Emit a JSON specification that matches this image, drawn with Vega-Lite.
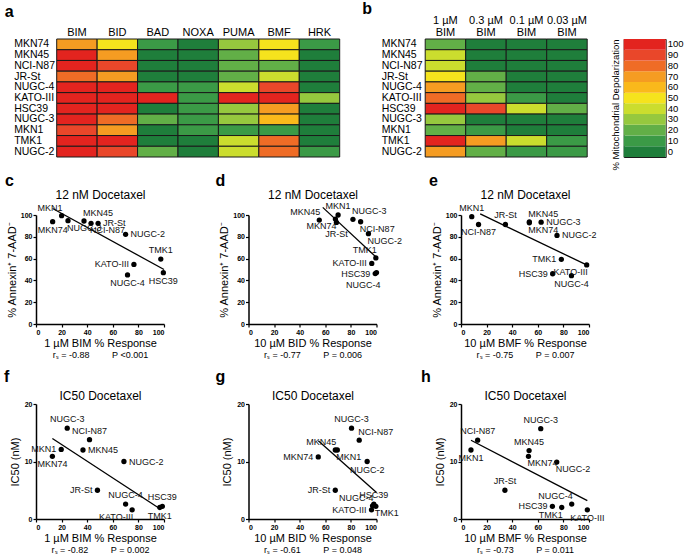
{
  "$schema": "https://vega.github.io/schema/vega-lite/v6.json",
  "background": "white",
  "padding": {"left": 4, "top": 1, "right": 2, "bottom": 2},
  "datasets": {
    "heatA": [
      {"cell":"MKN74","protein":"BIM","value":70},{"cell":"MKN74","protein":"BID","value":52},{"cell":"MKN74","protein":"BAD","value":10},{"cell":"MKN74","protein":"NOXA","value":0},{"cell":"MKN74","protein":"PUMA","value":30},{"cell":"MKN74","protein":"BMF","value":52},{"cell":"MKN74","protein":"HRK","value":8},
      {"cell":"MKN45","protein":"BIM","value":100},{"cell":"MKN45","protein":"BID","value":68},{"cell":"MKN45","protein":"BAD","value":2},{"cell":"MKN45","protein":"NOXA","value":2},{"cell":"MKN45","protein":"PUMA","value":20},{"cell":"MKN45","protein":"BMF","value":53},{"cell":"MKN45","protein":"HRK","value":2},
      {"cell":"NCI-N87","protein":"BIM","value":98},{"cell":"NCI-N87","protein":"BID","value":88},{"cell":"NCI-N87","protein":"BAD","value":2},{"cell":"NCI-N87","protein":"NOXA","value":2},{"cell":"NCI-N87","protein":"PUMA","value":20},{"cell":"NCI-N87","protein":"BMF","value":16},{"cell":"NCI-N87","protein":"HRK","value":2},
      {"cell":"JR-St","protein":"BIM","value":80},{"cell":"JR-St","protein":"BID","value":68},{"cell":"JR-St","protein":"BAD","value":3},{"cell":"JR-St","protein":"NOXA","value":3},{"cell":"JR-St","protein":"PUMA","value":22},{"cell":"JR-St","protein":"BMF","value":35},{"cell":"JR-St","protein":"HRK","value":2},
      {"cell":"NUGC-4","protein":"BIM","value":100},{"cell":"NUGC-4","protein":"BID","value":100},{"cell":"NUGC-4","protein":"BAD","value":5},{"cell":"NUGC-4","protein":"NOXA","value":8},{"cell":"NUGC-4","protein":"PUMA","value":40},{"cell":"NUGC-4","protein":"BMF","value":86},{"cell":"NUGC-4","protein":"HRK","value":3},
      {"cell":"KATO-III","protein":"BIM","value":100},{"cell":"KATO-III","protein":"BID","value":96},{"cell":"KATO-III","protein":"BAD","value":98},{"cell":"KATO-III","protein":"NOXA","value":8},{"cell":"KATO-III","protein":"PUMA","value":96},{"cell":"KATO-III","protein":"BMF","value":98},{"cell":"KATO-III","protein":"HRK","value":30},
      {"cell":"HSC39","protein":"BIM","value":100},{"cell":"HSC39","protein":"BID","value":99},{"cell":"HSC39","protein":"BAD","value":3},{"cell":"HSC39","protein":"NOXA","value":8},{"cell":"HSC39","protein":"PUMA","value":30},{"cell":"HSC39","protein":"BMF","value":72},{"cell":"HSC39","protein":"HRK","value":2},
      {"cell":"NUGC-3","protein":"BIM","value":98},{"cell":"NUGC-3","protein":"BID","value":81},{"cell":"NUGC-3","protein":"BAD","value":18},{"cell":"NUGC-3","protein":"NOXA","value":10},{"cell":"NUGC-3","protein":"PUMA","value":30},{"cell":"NUGC-3","protein":"BMF","value":62},{"cell":"NUGC-3","protein":"HRK","value":3},
      {"cell":"MKN1","protein":"BIM","value":90},{"cell":"MKN1","protein":"BID","value":70},{"cell":"MKN1","protein":"BAD","value":3},{"cell":"MKN1","protein":"NOXA","value":8},{"cell":"MKN1","protein":"PUMA","value":14},{"cell":"MKN1","protein":"BMF","value":8},{"cell":"MKN1","protein":"HRK","value":4},
      {"cell":"TMK1","protein":"BIM","value":100},{"cell":"TMK1","protein":"BID","value":99},{"cell":"TMK1","protein":"BAD","value":3},{"cell":"TMK1","protein":"NOXA","value":3},{"cell":"TMK1","protein":"PUMA","value":40},{"cell":"TMK1","protein":"BMF","value":78},{"cell":"TMK1","protein":"HRK","value":3},
      {"cell":"NUGC-2","protein":"BIM","value":97},{"cell":"NUGC-2","protein":"BID","value":93},{"cell":"NUGC-2","protein":"BAD","value":20},{"cell":"NUGC-2","protein":"NOXA","value":3},{"cell":"NUGC-2","protein":"PUMA","value":42},{"cell":"NUGC-2","protein":"BMF","value":76},{"cell":"NUGC-2","protein":"HRK","value":8}
    ],
    "heatB": [
      {"cell":"MKN74","conc":"1 µM BIM","value":17},{"cell":"MKN74","conc":"0.3 µM BIM","value":3},{"cell":"MKN74","conc":"0.1 µM BIM","value":2},{"cell":"MKN74","conc":"0.03 µM BIM","value":2},
      {"cell":"MKN45","conc":"1 µM BIM","value":37},{"cell":"MKN45","conc":"0.3 µM BIM","value":3},{"cell":"MKN45","conc":"0.1 µM BIM","value":2},{"cell":"MKN45","conc":"0.03 µM BIM","value":2},
      {"cell":"NCI-N87","conc":"1 µM BIM","value":42},{"cell":"NCI-N87","conc":"0.3 µM BIM","value":3},{"cell":"NCI-N87","conc":"0.1 µM BIM","value":2},{"cell":"NCI-N87","conc":"0.03 µM BIM","value":2},
      {"cell":"JR-St","conc":"1 µM BIM","value":48},{"cell":"JR-St","conc":"0.3 µM BIM","value":18},{"cell":"JR-St","conc":"0.1 µM BIM","value":3},{"cell":"JR-St","conc":"0.03 µM BIM","value":3},
      {"cell":"NUGC-4","conc":"1 µM BIM","value":71},{"cell":"NUGC-4","conc":"0.3 µM BIM","value":17},{"cell":"NUGC-4","conc":"0.1 µM BIM","value":4},{"cell":"NUGC-4","conc":"0.03 µM BIM","value":3},
      {"cell":"KATO-III","conc":"1 µM BIM","value":76},{"cell":"KATO-III","conc":"0.3 µM BIM","value":28},{"cell":"KATO-III","conc":"0.1 µM BIM","value":10},{"cell":"KATO-III","conc":"0.03 µM BIM","value":4},
      {"cell":"HSC39","conc":"1 µM BIM","value":99},{"cell":"HSC39","conc":"0.3 µM BIM","value":88},{"cell":"HSC39","conc":"0.1 µM BIM","value":40},{"cell":"HSC39","conc":"0.03 µM BIM","value":18},
      {"cell":"NUGC-3","conc":"1 µM BIM","value":26},{"cell":"NUGC-3","conc":"0.3 µM BIM","value":3},{"cell":"NUGC-3","conc":"0.1 µM BIM","value":3},{"cell":"NUGC-3","conc":"0.03 µM BIM","value":3},
      {"cell":"MKN1","conc":"1 µM BIM","value":20},{"cell":"MKN1","conc":"0.3 µM BIM","value":8},{"cell":"MKN1","conc":"0.1 µM BIM","value":3},{"cell":"MKN1","conc":"0.03 µM BIM","value":3},
      {"cell":"TMK1","conc":"1 µM BIM","value":97},{"cell":"TMK1","conc":"0.3 µM BIM","value":70},{"cell":"TMK1","conc":"0.1 µM BIM","value":38},{"cell":"TMK1","conc":"0.03 µM BIM","value":8},
      {"cell":"NUGC-2","conc":"1 µM BIM","value":70},{"cell":"NUGC-2","conc":"0.3 µM BIM","value":24},{"cell":"NUGC-2","conc":"0.1 µM BIM","value":8},{"cell":"NUGC-2","conc":"0.03 µM BIM","value":6}
    ],
    "legend": [{"v":0},{"v":10},{"v":20},{"v":30},{"v":40},{"v":50},{"v":60},{"v":70},{"v":80},{"v":90},{"v":100}],
    "fitC": [{"x":13,"y":106},{"x":100,"y":50}],
    "ptsC": [
      {"name":"MKN1","x":20,"y":99.4,"pos":"ul"},{"name":"MKN74","x":13,"y":93.9,"pos":"d"},{"name":"NUGC-3","x":25,"y":94.8,"pos":"dr"},{"name":"MKN45","x":37.5,"y":94.5,"pos":"ur"},{"name":"NCI-N87","x":43,"y":92.4,"pos":"dr"},{"name":"JR-St","x":48.5,"y":92.4,"pos":"r"},{"name":"NUGC-2","x":70,"y":82.3,"pos":"r"},{"name":"TMK1","x":97.5,"y":59.6,"pos":"u"},{"name":"KATO-III","x":76.5,"y":54.7,"pos":"l"},{"name":"NUGC-4","x":71.5,"y":45,"pos":"d"},{"name":"HSC39","x":99.5,"y":47.1,"pos":"d"}
    ],
    "fitD": [{"x":58,"y":107},{"x":100,"y":61}],
    "ptsD": [
      {"name":"MKN45","x":55.3,"y":95.3,"pos":"ul"},{"name":"MKN1","x":70,"y":100,"pos":"u"},{"name":"MKN74","x":67.9,"y":96.3,"pos":"dl"},{"name":"JR-St","x":68.7,"y":93.2,"pos":"dd"},{"name":"NUGC-3","x":81.6,"y":96,"pos":"ur"},{"name":"NCI-N87","x":87.6,"y":93.8,"pos":"dr"},{"name":"NUGC-2","x":93.7,"y":82.9,"pos":"dr"},{"name":"TMK1","x":99.5,"y":60.6,"pos":"ul"},{"name":"KATO-III","x":96.3,"y":55.6,"pos":"l"},{"name":"HSC39","x":99,"y":46.3,"pos":"l"},{"name":"NUGC-4","x":100,"y":47.2,"pos":"ddl"}
    ],
    "fitE": [{"x":15,"y":101},{"x":98.5,"y":54}],
    "ptsE": [
      {"name":"MKN1","x":8.4,"y":98.5,"pos":"u"},{"name":"NCI-N87","x":13.7,"y":91.3,"pos":"d"},{"name":"JR-St","x":34.7,"y":91.3,"pos":"u"},{"name":"MKN45","x":53.4,"y":93.7,"pos":"ur"},{"name":"MKN74","x":53.4,"y":92.8,"pos":"dr"},{"name":"NUGC-3","x":62.6,"y":93.4,"pos":"r"},{"name":"NUGC-2","x":75,"y":81.3,"pos":"r"},{"name":"TMK1","x":78.4,"y":59.3,"pos":"l"},{"name":"HSC39","x":71.6,"y":46.1,"pos":"l"},{"name":"KATO-III","x":98.2,"y":54.2,"pos":"dl"},{"name":"NUGC-4","x":86.3,"y":44.3,"pos":"d"}
    ],
    "fitF": [{"x":12.8,"y":14.0},{"x":97.4,"y":1.7}],
    "ptsF": [
      {"name":"NUGC-3","x":24.4,"y":15.8,"pos":"u"},{"name":"NCI-N87","x":41.8,"y":13.8,"pos":"u"},{"name":"MKN45","x":36.7,"y":12.0,"pos":"r"},{"name":"MKN1","x":19.7,"y":12.1,"pos":"l"},{"name":"MKN74","x":12.8,"y":10.9,"pos":"d"},{"name":"NUGC-2","x":68.7,"y":10.0,"pos":"r"},{"name":"JR-St","x":48,"y":5.0,"pos":"l"},{"name":"NUGC-4","x":70,"y":2.6,"pos":"u"},{"name":"KATO-III","x":75.1,"y":1.6,"pos":"dl"},{"name":"HSC39","x":98.7,"y":2.2,"pos":"u"},{"name":"TMK1","x":96.7,"y":2.0,"pos":"d"}
    ],
    "fitG": [{"x":54.5,"y":13.6},{"x":100,"y":4.6}],
    "ptsG": [
      {"name":"NUGC-3","x":80.5,"y":15.8,"pos":"u"},{"name":"NCI-N87","x":86.5,"y":13.7,"pos":"ur"},{"name":"MKN45","x":67.8,"y":12.0,"pos":"ul"},{"name":"MKN1","x":69.4,"y":12.0,"pos":"dr"},{"name":"MKN74","x":54.5,"y":10.8,"pos":"l"},{"name":"NUGC-2","x":92.7,"y":10.0,"pos":"d"},{"name":"JR-St","x":67.8,"y":5.0,"pos":"l"},{"name":"HSC39","x":97.9,"y":2.6,"pos":"u"},{"name":"NUGC-4","x":96.9,"y":2.3,"pos":"ul"},{"name":"TMK1","x":99.5,"y":2.2,"pos":"dr"},{"name":"KATO-III","x":96.1,"y":1.6,"pos":"l"}
    ],
    "fitH": [{"x":7.8,"y":13.7},{"x":98.7,"y":3.2}],
    "ptsH": [
      {"name":"NUGC-3","x":62.3,"y":15.7,"pos":"u"},{"name":"NCI-N87","x":13,"y":13.7,"pos":"u"},{"name":"MKN1","x":7.8,"y":12.0,"pos":"d"},{"name":"MKN45","x":53.2,"y":11.9,"pos":"u"},{"name":"MKN74","x":52.7,"y":10.9,"pos":"dr"},{"name":"NUGC-2","x":74.8,"y":9.9,"pos":"dr"},{"name":"JR-St","x":34.3,"y":5.0,"pos":"u"},{"name":"NUGC-4","x":86.5,"y":2.6,"pos":"ul"},{"name":"HSC39","x":71.4,"y":2.2,"pos":"l"},{"name":"TMK1","x":78.7,"y":2.0,"pos":"dl"},{"name":"KATO-III","x":98.7,"y":1.6,"pos":"d"}
    ]
  },
  "spacing": 2,
  "vconcat": [
    {
      "bounds": "flush",
      "spacing": 19.7,
      "hconcat": [
        {"width": 1, "height": 1, "data": {"values": []}, "mark": {"type": "point", "opacity": 0}},
        {
          "spacing": 21.5,
          "hconcat": [
            {
              "width": 283, "height": 118,
              "title": {"text": "a", "anchor": "start", "frame": "group", "dx": -52, "fontSize": 16, "fontWeight": "bold", "offset": 6},
              "data": {"name": "heatA"},
              "mark": {"type": "rect", "stroke": "#1a1a1a", "strokeWidth": 1},
              "encoding": {
                "x": {"field": "protein", "type": "nominal", "sort": ["BIM","BID","BAD","NOXA","PUMA","BMF","HRK"], "scale": {"paddingInner": 0, "paddingOuter": 0},
                      "axis": {"orient": "top", "title": null, "labelAngle": 0, "ticks": false, "domain": false, "labelFontSize": 11, "labelPadding": 2}},
                "y": {"field": "cell", "type": "nominal", "sort": ["MKN74","MKN45","NCI-N87","JR-St","NUGC-4","KATO-III","HSC39","NUGC-3","MKN1","TMK1","NUGC-2"], "scale": {"paddingInner": 0, "paddingOuter": 0},
                      "axis": {"title": null, "ticks": false, "domain": false, "labelFontSize": 10.5, "labelAlign": "left", "labelPadding": 43}},
                "color": {"field": "value", "type": "quantitative", "legend": null,
                          "scale": {"type": "threshold", "domain": [5,15,25,35,45,55,65,75,85,95], "range": ["#1f7e3b","#3b9a46","#62af47","#96c83e","#cbdd2e","#f5e31d","#fab91b","#f59c22","#ef6c26","#e9472a","#e3241f"]}}
              }
            },
            {
              "width": 162, "height": 118,
              "title": {"text": "b", "anchor": "start", "frame": "group", "dx": -63, "fontSize": 16, "fontWeight": "bold", "offset": -3},
              "data": {"name": "heatB"},
              "mark": {"type": "rect", "stroke": "#1a1a1a", "strokeWidth": 1},
              "encoding": {
                "x": {"field": "conc", "type": "nominal", "sort": ["1 µM BIM","0.3 µM BIM","0.1 µM BIM","0.03 µM BIM"], "scale": {"paddingInner": 0, "paddingOuter": 0},
                      "axis": {"orient": "top", "title": null, "labelAngle": 0, "ticks": false, "domain": false, "labelFontSize": 11, "labelPadding": 14, "labelLineHeight": 12,
                               "labelExpr": "[replace(datum.label, ' BIM', ''), 'BIM']"}},
                "y": {"field": "cell", "type": "nominal", "sort": ["MKN74","MKN45","NCI-N87","JR-St","NUGC-4","KATO-III","HSC39","NUGC-3","MKN1","TMK1","NUGC-2"], "scale": {"paddingInner": 0, "paddingOuter": 0},
                      "axis": {"title": null, "ticks": false, "domain": false, "labelFontSize": 10.5, "labelAlign": "left", "labelPadding": 44}},
                "color": {"field": "value", "type": "quantitative", "legend": null,
                          "scale": {"type": "threshold", "domain": [5,15,25,35,45,55,65,75,85,95], "range": ["#1f7e3b","#3b9a46","#62af47","#96c83e","#cbdd2e","#f5e31d","#fab91b","#f59c22","#ef6c26","#e9472a","#e3241f"]}}
              }
            },
            {
              "width": 42, "height": 118,
              "data": {"name": "legend"},
              "view": {"stroke": "#1a1a1a", "strokeWidth": 1},
              "layer": [
                {
                  "mark": {"type": "rect"},
                  "encoding": {
                    "x": {"datum": "bar", "type": "nominal", "axis": null, "scale": {"paddingInner": 0, "paddingOuter": 0}},
                    "y": {"field": "v", "type": "ordinal", "sort": "descending", "scale": {"paddingInner": 0, "paddingOuter": 0},
                          "axis": {"orient": "right", "title": null, "ticks": false, "domain": false, "labelFontSize": 9.5, "labelPadding": 1.5}},
                    "color": {"field": "v", "type": "quantitative", "legend": null,
                              "scale": {"type": "threshold", "domain": [5,15,25,35,45,55,65,75,85,95], "range": ["#1f7e3b","#3b9a46","#62af47","#96c83e","#cbdd2e","#f5e31d","#fab91b","#f59c22","#ef6c26","#e9472a","#e3241f"]}}
                  }
                },
                {
                  "mark": {"type": "rect", "opacity": 0},
                  "encoding": {
                    "x": {"datum": "bar", "type": "nominal", "axis": null},
                    "y": {"field": "v", "type": "ordinal", "sort": "descending",
                          "axis": {"orient": "left", "title": "% Mitochondrial Depolarization", "labels": false, "ticks": false, "domain": false, "titleFontSize": 9.5, "titleAnchor": "start", "titleAlign": "right", "titlePadding": 3}}
                  }
                }
              ],
              "resolve": {"axis": {"y": "independent"}}
            }
          ]
        }
      ]
    },
    {
      "spacing": 10,
      "vconcat": [
        {
          "bounds": "flush",
          "spacing": 84.5,
          "hconcat": [
            {
              "width": 128, "height": 109,
              "title": {"text": "c", "anchor": "start", "frame": "group", "dx": -31, "fontSize": 16, "fontWeight": "bold", "offset": -1},
              "layer": [
                {"data": {"name": "fitC"}, "mark": {"type": "line", "color": "black", "strokeWidth": 1.3},
                 "encoding": {
                   "x": {"field": "x", "type": "quantitative", "scale": {"domain": [0,100], "nice": false}, "axis": {"orient": "bottom", "values": [0,20,40,60,80,100], "title": "1 µM BIM % Response", "titleFontSize": 11, "titlePadding": 2, "labelFontSize": 7, "labelFontWeight": "bold", "labelPadding": 1, "labelOverlap": false, "tickSize": 3, "tickWidth": 1.2, "domainWidth": 1.5}},
                   "y": {"field": "y", "type": "quantitative", "scale": {"domain": [0,100], "nice": false}, "axis": {"values": [0,20,40,60,80,100], "title": "% Annexin⁺ 7-AAD⁻", "titleFontSize": 11, "titlePadding": 3, "labelFontSize": 7, "labelFontWeight": "bold", "labelPadding": 1, "labelOverlap": false, "tickSize": 3, "tickWidth": 1.2, "domainWidth": 1.5}}}},
                {"data": {"name": "ptsC"}, "mark": {"type": "circle", "size": 28, "color": "black", "opacity": 1},
                 "encoding": {
                   "x": {"field": "x", "type": "quantitative", "axis": {"orient": "top", "title": "12 nM Docetaxel", "labels": false, "ticks": false, "domain": false, "titleFontSize": 12, "titlePadding": 14}},
                   "y": {"field": "y", "type": "quantitative", "axis": {"values": [0,20,40,60,80,100], "title": "% Annexin⁺ 7-AAD⁻", "titleFontSize": 11, "titlePadding": 3, "labelFontSize": 7, "labelFontWeight": "bold", "labelPadding": 1, "labelOverlap": false, "tickSize": 3, "tickWidth": 1.2, "domainWidth": 1.5}}}},
                {"data": {"name": "ptsC"},
                 "mark": {"type": "text", "fontSize": 9, "color": "#111",
                   "align": {"expr": "indexof(['r','ur','dr'],datum.pos)>=0?'left':(indexof(['l','ul','dl','ddl'],datum.pos)>=0?'right':'center')"},
                   "baseline": {"expr": "indexof(['u','ul','ur'],datum.pos)>=0?'bottom':(indexof(['d','dl','dr','dd','ddl'],datum.pos)>=0?'top':'middle')"},
                   "dx": {"expr": "datum.pos=='r'?5:(datum.pos=='l'?-5:((datum.pos=='ul'||datum.pos=='dl')?1:((datum.pos=='ur'||datum.pos=='dr')?-1:(datum.pos=='ddl'?4:0))))"},
                   "dy": {"expr": "datum.pos=='u'?-4:(datum.pos=='d'?4:((datum.pos=='ul'||datum.pos=='ur')?-3:((datum.pos=='dl'||datum.pos=='dr')?3:((datum.pos=='dd'||datum.pos=='ddl')?8:0))))"}},
                 "encoding": {
                   "x": {"field": "x", "type": "quantitative", "axis": {"orient": "bottom", "offset": 26, "title": "rₛ = -0.88\u00a0\u00a0\u00a0\u00a0\u00a0\u00a0\u00a0\u00a0\u00a0P <0.001", "labels": false, "ticks": false, "domain": false, "titleFontSize": 9, "titlePadding": 0}},
                   "y": {"field": "y", "type": "quantitative", "axis": {"values": [0,20,40,60,80,100], "title": "% Annexin⁺ 7-AAD⁻", "titleFontSize": 11, "titlePadding": 3, "labelFontSize": 7, "labelFontWeight": "bold", "labelPadding": 1, "labelOverlap": false, "tickSize": 3, "tickWidth": 1.2, "domainWidth": 1.5}},
                   "text": {"field": "name"}}}
              ],
              "resolve": {"axis": {"x": "independent"}}
            },
            {
              "width": 128, "height": 109,
              "title": {"text": "d", "anchor": "start", "frame": "group", "dx": -33, "fontSize": 16, "fontWeight": "bold", "offset": -1},
              "layer": [
                {"data": {"name": "fitD"}, "mark": {"type": "line", "color": "black", "strokeWidth": 1.3},
                 "encoding": {
                   "x": {"field": "x", "type": "quantitative", "scale": {"domain": [0,100], "nice": false}, "axis": {"orient": "bottom", "values": [0,20,40,60,80,100], "title": "10 µM BID % Response", "titleFontSize": 11, "titlePadding": 2, "labelFontSize": 7, "labelFontWeight": "bold", "labelPadding": 1, "labelOverlap": false, "tickSize": 3, "tickWidth": 1.2, "domainWidth": 1.5}},
                   "y": {"field": "y", "type": "quantitative", "scale": {"domain": [0,100], "nice": false}, "axis": {"values": [0,20,40,60,80,100], "title": "% Annexin⁺ 7-AAD⁻", "titleFontSize": 11, "titlePadding": 3, "labelFontSize": 7, "labelFontWeight": "bold", "labelPadding": 1, "labelOverlap": false, "tickSize": 3, "tickWidth": 1.2, "domainWidth": 1.5}}}},
                {"data": {"name": "ptsD"}, "mark": {"type": "circle", "size": 28, "color": "black", "opacity": 1},
                 "encoding": {
                   "x": {"field": "x", "type": "quantitative", "axis": {"orient": "top", "title": "12 nM Docetaxel", "labels": false, "ticks": false, "domain": false, "titleFontSize": 12, "titlePadding": 14}},
                   "y": {"field": "y", "type": "quantitative", "axis": {"values": [0,20,40,60,80,100], "title": "% Annexin⁺ 7-AAD⁻", "titleFontSize": 11, "titlePadding": 3, "labelFontSize": 7, "labelFontWeight": "bold", "labelPadding": 1, "labelOverlap": false, "tickSize": 3, "tickWidth": 1.2, "domainWidth": 1.5}}}},
                {"data": {"name": "ptsD"},
                 "mark": {"type": "text", "fontSize": 9, "color": "#111",
                   "align": {"expr": "indexof(['r','ur','dr'],datum.pos)>=0?'left':(indexof(['l','ul','dl','ddl'],datum.pos)>=0?'right':'center')"},
                   "baseline": {"expr": "indexof(['u','ul','ur'],datum.pos)>=0?'bottom':(indexof(['d','dl','dr','dd','ddl'],datum.pos)>=0?'top':'middle')"},
                   "dx": {"expr": "datum.pos=='r'?5:(datum.pos=='l'?-5:((datum.pos=='ul'||datum.pos=='dl')?1:((datum.pos=='ur'||datum.pos=='dr')?-1:(datum.pos=='ddl'?4:0))))"},
                   "dy": {"expr": "datum.pos=='u'?-4:(datum.pos=='d'?4:((datum.pos=='ul'||datum.pos=='ur')?-3:((datum.pos=='dl'||datum.pos=='dr')?3:((datum.pos=='dd'||datum.pos=='ddl')?8:0))))"}},
                 "encoding": {
                   "x": {"field": "x", "type": "quantitative", "axis": {"orient": "bottom", "offset": 26, "title": "rₛ = -0.77\u00a0\u00a0\u00a0\u00a0\u00a0\u00a0\u00a0\u00a0\u00a0P = 0.006", "labels": false, "ticks": false, "domain": false, "titleFontSize": 9, "titlePadding": 0}},
                   "y": {"field": "y", "type": "quantitative", "axis": {"values": [0,20,40,60,80,100], "title": "% Annexin⁺ 7-AAD⁻", "titleFontSize": 11, "titlePadding": 3, "labelFontSize": 7, "labelFontWeight": "bold", "labelPadding": 1, "labelOverlap": false, "tickSize": 3, "tickWidth": 1.2, "domainWidth": 1.5}},
                   "text": {"field": "name"}}}
              ],
              "resolve": {"axis": {"x": "independent"}}
            },
            {
              "width": 128, "height": 109,
              "title": {"text": "e", "anchor": "start", "frame": "group", "dx": -32, "fontSize": 16, "fontWeight": "bold", "offset": -1},
              "layer": [
                {"data": {"name": "fitE"}, "mark": {"type": "line", "color": "black", "strokeWidth": 1.3},
                 "encoding": {
                   "x": {"field": "x", "type": "quantitative", "scale": {"domain": [0,100], "nice": false}, "axis": {"orient": "bottom", "values": [0,20,40,60,80,100], "title": "10 µM BMF % Response", "titleFontSize": 11, "titlePadding": 2, "labelFontSize": 7, "labelFontWeight": "bold", "labelPadding": 1, "labelOverlap": false, "tickSize": 3, "tickWidth": 1.2, "domainWidth": 1.5}},
                   "y": {"field": "y", "type": "quantitative", "scale": {"domain": [0,100], "nice": false}, "axis": {"values": [0,20,40,60,80,100], "title": "% Annexin⁺ 7-AAD⁻", "titleFontSize": 11, "titlePadding": 3, "labelFontSize": 7, "labelFontWeight": "bold", "labelPadding": 1, "labelOverlap": false, "tickSize": 3, "tickWidth": 1.2, "domainWidth": 1.5}}}},
                {"data": {"name": "ptsE"}, "mark": {"type": "circle", "size": 28, "color": "black", "opacity": 1},
                 "encoding": {
                   "x": {"field": "x", "type": "quantitative", "axis": {"orient": "top", "title": "12 nM Docetaxel", "labels": false, "ticks": false, "domain": false, "titleFontSize": 12, "titlePadding": 14}},
                   "y": {"field": "y", "type": "quantitative", "axis": {"values": [0,20,40,60,80,100], "title": "% Annexin⁺ 7-AAD⁻", "titleFontSize": 11, "titlePadding": 3, "labelFontSize": 7, "labelFontWeight": "bold", "labelPadding": 1, "labelOverlap": false, "tickSize": 3, "tickWidth": 1.2, "domainWidth": 1.5}}}},
                {"data": {"name": "ptsE"},
                 "mark": {"type": "text", "fontSize": 9, "color": "#111",
                   "align": {"expr": "indexof(['r','ur','dr'],datum.pos)>=0?'left':(indexof(['l','ul','dl','ddl'],datum.pos)>=0?'right':'center')"},
                   "baseline": {"expr": "indexof(['u','ul','ur'],datum.pos)>=0?'bottom':(indexof(['d','dl','dr','dd','ddl'],datum.pos)>=0?'top':'middle')"},
                   "dx": {"expr": "datum.pos=='r'?5:(datum.pos=='l'?-5:((datum.pos=='ul'||datum.pos=='dl')?1:((datum.pos=='ur'||datum.pos=='dr')?-1:(datum.pos=='ddl'?4:0))))"},
                   "dy": {"expr": "datum.pos=='u'?-4:(datum.pos=='d'?4:((datum.pos=='ul'||datum.pos=='ur')?-3:((datum.pos=='dl'||datum.pos=='dr')?3:((datum.pos=='dd'||datum.pos=='ddl')?8:0))))"}},
                 "encoding": {
                   "x": {"field": "x", "type": "quantitative", "axis": {"orient": "bottom", "offset": 26, "title": "rₛ = -0.75\u00a0\u00a0\u00a0\u00a0\u00a0\u00a0\u00a0\u00a0\u00a0P = 0.007", "labels": false, "ticks": false, "domain": false, "titleFontSize": 9, "titlePadding": 0}},
                   "y": {"field": "y", "type": "quantitative", "axis": {"values": [0,20,40,60,80,100], "title": "% Annexin⁺ 7-AAD⁻", "titleFontSize": 11, "titlePadding": 3, "labelFontSize": 7, "labelFontWeight": "bold", "labelPadding": 1, "labelOverlap": false, "tickSize": 3, "tickWidth": 1.2, "domainWidth": 1.5}},
                   "text": {"field": "name"}}}
              ],
              "resolve": {"axis": {"x": "independent"}}
            }
          ]
        },
        {
          "bounds": "flush",
          "spacing": 84.5,
          "hconcat": [
            {
              "width": 128, "height": 115,
              "title": {"text": "f", "anchor": "start", "frame": "group", "dx": -32, "fontSize": 16, "fontWeight": "bold", "offset": 4},
              "layer": [
                {"data": {"name": "fitF"}, "mark": {"type": "line", "color": "black", "strokeWidth": 1.3},
                 "encoding": {
                   "x": {"field": "x", "type": "quantitative", "scale": {"domain": [0,100], "nice": false}, "axis": {"orient": "bottom", "values": [0,20,40,60,80,100], "title": "1 µM BIM % Response", "titleFontSize": 11, "titlePadding": 2, "labelFontSize": 7, "labelFontWeight": "bold", "labelPadding": 1, "labelOverlap": false, "tickSize": 3, "tickWidth": 1.2, "domainWidth": 1.5}},
                   "y": {"field": "y", "type": "quantitative", "scale": {"domain": [0,20], "nice": false}, "axis": {"values": [0,10,20], "title": "IC50 (nM)", "titleFontSize": 11, "titlePadding": 4, "labelFontSize": 7, "labelFontWeight": "bold", "labelPadding": 1, "labelOverlap": false, "tickSize": 3, "tickWidth": 1.2, "domainWidth": 1.5}}}},
                {"data": {"name": "ptsF"}, "mark": {"type": "circle", "size": 28, "color": "black", "opacity": 1},
                 "encoding": {
                   "x": {"field": "x", "type": "quantitative", "axis": {"orient": "top", "title": "IC50 Docetaxel", "labels": false, "ticks": false, "domain": false, "titleFontSize": 12, "titlePadding": 2}},
                   "y": {"field": "y", "type": "quantitative", "axis": {"values": [0,10,20], "title": "IC50 (nM)", "titleFontSize": 11, "titlePadding": 4, "labelFontSize": 7, "labelFontWeight": "bold", "labelPadding": 1, "labelOverlap": false, "tickSize": 3, "tickWidth": 1.2, "domainWidth": 1.5}}}},
                {"data": {"name": "ptsF"},
                 "mark": {"type": "text", "fontSize": 9, "color": "#111",
                   "align": {"expr": "indexof(['r','ur','dr'],datum.pos)>=0?'left':(indexof(['l','ul','dl','ddl'],datum.pos)>=0?'right':'center')"},
                   "baseline": {"expr": "indexof(['u','ul','ur'],datum.pos)>=0?'bottom':(indexof(['d','dl','dr','dd','ddl'],datum.pos)>=0?'top':'middle')"},
                   "dx": {"expr": "datum.pos=='r'?5:(datum.pos=='l'?-5:((datum.pos=='ul'||datum.pos=='dl')?1:((datum.pos=='ur'||datum.pos=='dr')?-1:(datum.pos=='ddl'?4:0))))"},
                   "dy": {"expr": "datum.pos=='u'?-4:(datum.pos=='d'?4:((datum.pos=='ul'||datum.pos=='ur')?-3:((datum.pos=='dl'||datum.pos=='dr')?3:((datum.pos=='dd'||datum.pos=='ddl')?8:0))))"}},
                 "encoding": {
                   "x": {"field": "x", "type": "quantitative", "axis": {"orient": "bottom", "offset": 26, "title": "rₛ = -0.82\u00a0\u00a0\u00a0\u00a0\u00a0\u00a0\u00a0\u00a0\u00a0P = 0.002", "labels": false, "ticks": false, "domain": false, "titleFontSize": 9, "titlePadding": 0}},
                   "y": {"field": "y", "type": "quantitative", "axis": {"values": [0,10,20], "title": "IC50 (nM)", "titleFontSize": 11, "titlePadding": 4, "labelFontSize": 7, "labelFontWeight": "bold", "labelPadding": 1, "labelOverlap": false, "tickSize": 3, "tickWidth": 1.2, "domainWidth": 1.5}},
                   "text": {"field": "name"}}}
              ],
              "resolve": {"axis": {"x": "independent"}}
            },
            {
              "width": 128, "height": 115,
              "title": {"text": "g", "anchor": "start", "frame": "group", "dx": -33, "fontSize": 16, "fontWeight": "bold", "offset": 4},
              "layer": [
                {"data": {"name": "fitG"}, "mark": {"type": "line", "color": "black", "strokeWidth": 1.3},
                 "encoding": {
                   "x": {"field": "x", "type": "quantitative", "scale": {"domain": [0,100], "nice": false}, "axis": {"orient": "bottom", "values": [0,20,40,60,80,100], "title": "10 µM BID % Response", "titleFontSize": 11, "titlePadding": 2, "labelFontSize": 7, "labelFontWeight": "bold", "labelPadding": 1, "labelOverlap": false, "tickSize": 3, "tickWidth": 1.2, "domainWidth": 1.5}},
                   "y": {"field": "y", "type": "quantitative", "scale": {"domain": [0,20], "nice": false}, "axis": {"values": [0,10,20], "title": "IC50 (nM)", "titleFontSize": 11, "titlePadding": 4, "labelFontSize": 7, "labelFontWeight": "bold", "labelPadding": 1, "labelOverlap": false, "tickSize": 3, "tickWidth": 1.2, "domainWidth": 1.5}}}},
                {"data": {"name": "ptsG"}, "mark": {"type": "circle", "size": 28, "color": "black", "opacity": 1},
                 "encoding": {
                   "x": {"field": "x", "type": "quantitative", "axis": {"orient": "top", "title": "IC50 Docetaxel", "labels": false, "ticks": false, "domain": false, "titleFontSize": 12, "titlePadding": 2}},
                   "y": {"field": "y", "type": "quantitative", "axis": {"values": [0,10,20], "title": "IC50 (nM)", "titleFontSize": 11, "titlePadding": 4, "labelFontSize": 7, "labelFontWeight": "bold", "labelPadding": 1, "labelOverlap": false, "tickSize": 3, "tickWidth": 1.2, "domainWidth": 1.5}}}},
                {"data": {"name": "ptsG"},
                 "mark": {"type": "text", "fontSize": 9, "color": "#111",
                   "align": {"expr": "indexof(['r','ur','dr'],datum.pos)>=0?'left':(indexof(['l','ul','dl','ddl'],datum.pos)>=0?'right':'center')"},
                   "baseline": {"expr": "indexof(['u','ul','ur'],datum.pos)>=0?'bottom':(indexof(['d','dl','dr','dd','ddl'],datum.pos)>=0?'top':'middle')"},
                   "dx": {"expr": "datum.pos=='r'?5:(datum.pos=='l'?-5:((datum.pos=='ul'||datum.pos=='dl')?1:((datum.pos=='ur'||datum.pos=='dr')?-1:(datum.pos=='ddl'?4:0))))"},
                   "dy": {"expr": "datum.pos=='u'?-4:(datum.pos=='d'?4:((datum.pos=='ul'||datum.pos=='ur')?-3:((datum.pos=='dl'||datum.pos=='dr')?3:((datum.pos=='dd'||datum.pos=='ddl')?8:0))))"}},
                 "encoding": {
                   "x": {"field": "x", "type": "quantitative", "axis": {"orient": "bottom", "offset": 26, "title": "rₛ = -0.61\u00a0\u00a0\u00a0\u00a0\u00a0\u00a0\u00a0\u00a0\u00a0P = 0.048", "labels": false, "ticks": false, "domain": false, "titleFontSize": 9, "titlePadding": 0}},
                   "y": {"field": "y", "type": "quantitative", "axis": {"values": [0,10,20], "title": "IC50 (nM)", "titleFontSize": 11, "titlePadding": 4, "labelFontSize": 7, "labelFontWeight": "bold", "labelPadding": 1, "labelOverlap": false, "tickSize": 3, "tickWidth": 1.2, "domainWidth": 1.5}},
                   "text": {"field": "name"}}}
              ],
              "resolve": {"axis": {"x": "independent"}}
            },
            {
              "width": 128, "height": 115,
              "title": {"text": "h", "anchor": "start", "frame": "group", "dx": -40, "fontSize": 16, "fontWeight": "bold", "offset": 4},
              "layer": [
                {"data": {"name": "fitH"}, "mark": {"type": "line", "color": "black", "strokeWidth": 1.3},
                 "encoding": {
                   "x": {"field": "x", "type": "quantitative", "scale": {"domain": [0,100], "nice": false}, "axis": {"orient": "bottom", "values": [0,20,40,60,80,100], "title": "10 µM BMF % Response", "titleFontSize": 11, "titlePadding": 2, "labelFontSize": 7, "labelFontWeight": "bold", "labelPadding": 1, "labelOverlap": false, "tickSize": 3, "tickWidth": 1.2, "domainWidth": 1.5}},
                   "y": {"field": "y", "type": "quantitative", "scale": {"domain": [0,20], "nice": false}, "axis": {"values": [0,10,20], "title": "IC50 (nM)", "titleFontSize": 11, "titlePadding": 4, "labelFontSize": 7, "labelFontWeight": "bold", "labelPadding": 1, "labelOverlap": false, "tickSize": 3, "tickWidth": 1.2, "domainWidth": 1.5}}}},
                {"data": {"name": "ptsH"}, "mark": {"type": "circle", "size": 28, "color": "black", "opacity": 1},
                 "encoding": {
                   "x": {"field": "x", "type": "quantitative", "axis": {"orient": "top", "title": "IC50 Docetaxel", "labels": false, "ticks": false, "domain": false, "titleFontSize": 12, "titlePadding": 2}},
                   "y": {"field": "y", "type": "quantitative", "axis": {"values": [0,10,20], "title": "IC50 (nM)", "titleFontSize": 11, "titlePadding": 4, "labelFontSize": 7, "labelFontWeight": "bold", "labelPadding": 1, "labelOverlap": false, "tickSize": 3, "tickWidth": 1.2, "domainWidth": 1.5}}}},
                {"data": {"name": "ptsH"},
                 "mark": {"type": "text", "fontSize": 9, "color": "#111",
                   "align": {"expr": "indexof(['r','ur','dr'],datum.pos)>=0?'left':(indexof(['l','ul','dl','ddl'],datum.pos)>=0?'right':'center')"},
                   "baseline": {"expr": "indexof(['u','ul','ur'],datum.pos)>=0?'bottom':(indexof(['d','dl','dr','dd','ddl'],datum.pos)>=0?'top':'middle')"},
                   "dx": {"expr": "datum.pos=='r'?5:(datum.pos=='l'?-5:((datum.pos=='ul'||datum.pos=='dl')?1:((datum.pos=='ur'||datum.pos=='dr')?-1:(datum.pos=='ddl'?4:0))))"},
                   "dy": {"expr": "datum.pos=='u'?-4:(datum.pos=='d'?4:((datum.pos=='ul'||datum.pos=='ur')?-3:((datum.pos=='dl'||datum.pos=='dr')?3:((datum.pos=='dd'||datum.pos=='ddl')?8:0))))"}},
                 "encoding": {
                   "x": {"field": "x", "type": "quantitative", "axis": {"orient": "bottom", "offset": 26, "title": "rₛ = -0.73\u00a0\u00a0\u00a0\u00a0\u00a0\u00a0\u00a0\u00a0\u00a0P = 0.011", "labels": false, "ticks": false, "domain": false, "titleFontSize": 9, "titlePadding": 0}},
                   "y": {"field": "y", "type": "quantitative", "axis": {"values": [0,10,20], "title": "IC50 (nM)", "titleFontSize": 11, "titlePadding": 4, "labelFontSize": 7, "labelFontWeight": "bold", "labelPadding": 1, "labelOverlap": false, "tickSize": 3, "tickWidth": 1.2, "domainWidth": 1.5}},
                   "text": {"field": "name"}}}
              ],
              "resolve": {"axis": {"x": "independent"}}
            }
          ]
        }
      ]
    }
  ],
  "config": {
    "font": "Liberation Sans",
    "view": {"stroke": null},
    "axis": {"grid": false, "domainColor": "black", "tickColor": "black", "labelColor": "black", "titleColor": "black", "titleFontWeight": "normal"},
    "title": {"color": "black"}
  }
}
